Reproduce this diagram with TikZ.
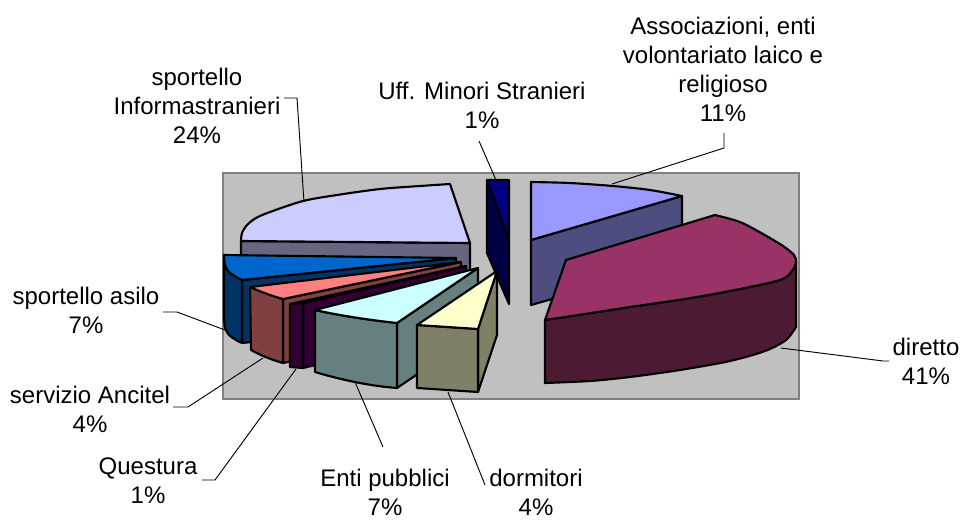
\documentclass[tikz,border=0pt]{standalone}
\usepackage{fontspec}
\setmainfont{Liberation Sans}
\definecolor{plotBg}{HTML}{C0C0C0}
\definecolor{plotRim}{HTML}{808080}
\definecolor{infoTop}{HTML}{CCCCFF}
\definecolor{infoSide}{HTML}{666680}
\definecolor{uffTop}{HTML}{000080}
\definecolor{uffSide}{HTML}{000045}
\definecolor{assTop}{HTML}{9999FF}
\definecolor{assSide}{HTML}{4D4D80}
\definecolor{dirTop}{HTML}{993366}
\definecolor{dirSide}{HTML}{4D1A33}
\definecolor{asiloTop}{HTML}{0066CC}
\definecolor{asiloSide}{HTML}{003366}
\definecolor{ancTop}{HTML}{FF8080}
\definecolor{ancSide}{HTML}{804040}
\definecolor{questTop}{HTML}{660066}
\definecolor{questSide}{HTML}{330033}
\definecolor{entiTop}{HTML}{CCFFFF}
\definecolor{entiSide}{HTML}{668080}
\definecolor{dormTop}{HTML}{FFFFCC}
\definecolor{dormSide}{HTML}{808066}
\tikzstyle{slice} = [draw=black, line width=1.6pt, line join=round]
\tikzstyle{leader} = [draw=black, line width=0.7pt]
\tikzstyle{lab} = [align=center, inner sep=0pt, font=\fontsize{18}{21.75}\selectfont]

\begin{document}
\begin{tikzpicture}[x=0.75pt, y=-0.75pt]
        \useasboundingbox (0,0) rectangle (965,522);
        \filldraw[fill=plotBg, draw=plotRim, line width=1.5pt] (223,173) rectangle (799,399);

        % Uff. Minori Stranieri
        \filldraw[slice, fill=uffSide] (487,180) -- (509,240) -- (509,304) -- (487,253) -- cycle;
        \filldraw[slice, fill=uffTop] (487,180) -- (509,180) -- (509,240) -- cycle;

        % Associazioni
        \filldraw[slice, fill=assSide] (531,240) -- (682,196) -- (682,262) -- (531,305) -- cycle;
        \filldraw[slice, fill=assTop] (531,240) -- (531,182) -- plot[smooth] coordinates {(531,182) (570,183) (613,186) (650,190) (682,196)} -- cycle;

        % diretto
        \filldraw[slice, fill=dirSide] (545,320) -- (545,383) -- plot[smooth] coordinates {(545,383) (590,381) (630,377) (680,370) (730,361) (765,351) (786,340) (796,327)} -- (796,262)
            -- plot[smooth] coordinates {(796,262) (792,271) (780,280) (735,290) (685,299) (630,307) (585,314) (545,320)} -- cycle;
        \filldraw[slice, fill=dirTop] (545,320) -- (566,260) -- (715,215) -- plot[smooth] coordinates {(715,215) (740,222) (763,234) (783,246) (794,255) (796,262) (792,271) (780,280) (735,290) (685,299) (630,307) (585,314) (545,320)} -- cycle;

        % sportello Informastranieri
        \filldraw[slice, fill=infoSide] (241,241) -- (470,243) -- (470,300) -- (241,298) -- cycle;
        \filldraw[slice, fill=infoTop] (470,243) -- (241,241) -- plot[smooth] coordinates {(241,241) (242,233) (247,225) (256,218) (270,212) (303,201) (337,195) (380,189) (420,186) (450,184)} -- cycle;

        % sportello asilo
        \filldraw[slice, fill=asiloSide] (242,280) -- (456,258) -- (456,321) -- (242,343) -- cycle;
        \filldraw[slice, fill=asiloSide] (242,280) -- (242,343) -- plot[smooth] coordinates {(242,343) (236,340) (229,335) (225,328) (224,318)} -- (224,255)
            -- plot[smooth] coordinates {(224,255) (225,265) (229,272) (236,277) (242,280)} -- cycle;
        \filldraw[slice, fill=asiloTop] (456,258) -- (224,255) -- plot[smooth] coordinates {(224,255) (225,265) (229,272) (236,277) (242,280)} -- cycle;

        % servizio Ancitel
        \filldraw[slice, fill=ancSide] (283,299) -- (461,262) -- (461,325) -- (283,363) -- cycle;
        \filldraw[slice, fill=ancSide] (250,287) -- (283,299) -- (283,363) .. controls (272,360) and (260,355) .. (251,350) -- cycle;
        \filldraw[slice, fill=ancTop] (461,262) -- (250,287) .. controls (261,292) and (272,296) .. (283,299) -- cycle;

        % Questura
        \filldraw[slice, fill=questSide] (303,303) -- (466,266) -- (466,329) -- (303,368) -- cycle;
        \filldraw[slice, fill=questSide] (290,304) -- (303,303) -- (303,368) -- (290,367) -- cycle;
        \filldraw[slice, fill=questTop] (466,266) -- (290,304) -- (303,303) -- cycle;

        % Enti pubblici
        \filldraw[slice, fill=entiSide] (397,323) -- (478,268) -- (478,333) -- (397,388) -- cycle;
        \filldraw[slice, fill=entiSide] (315,310) .. controls (342,316) and (370,320) .. (397,323) -- (397,388) .. controls (370,386) and (342,380) .. (315,372) -- cycle;
        \filldraw[slice, fill=entiTop] (478,268) -- (315,310) .. controls (342,316) and (370,320) .. (397,323) -- cycle;

        % dormitori
        \filldraw[slice, fill=dormSide] (478,329) -- (497,271) -- (497,335) -- (478,392) -- cycle;
        \filldraw[slice, fill=dormSide] (417,325) -- (478,329) -- (478,392) -- (417,388) -- cycle;
        \filldraw[slice, fill=dormTop] (497,271) -- (417,325) -- (478,329) -- cycle;

        % labels
        \node[lab] (labInfo) at (197,106) {sportello\\Informastranieri\\24\%};
        \node[lab] (labUff) at (482,105.5) {Uff. Minori Stranieri\\1\%};
        \node[lab] (labAss) at (723,69) {Associazioni, enti\\volontariato laico e\\religioso\\11\%};
        \node[lab] (labDir) at (926,361.5) {diretto\\41\%};
        \node[lab] (labAsilo) at (86,310.5) {sportello asilo\\7\%};
        \node[lab] (labAnc) at (90,409.5) {servizio Ancitel\\4\%};
        \node[lab] (labQuest) at (148,480.5) {Questura\\1\%};
        \node[lab] (labEnti) at (385,492) {Enti pubblici\\7\%};
        \node[lab] (labDorm) at (536,492) {dormitori\\4\%};

        % leader lines
        \coordinate (tkInfo) at (284,98);    \coordinate (ptInfo) at (304,202);
        \coordinate (tkUff) at (479,141);    \coordinate (ptUff) at (496,180);
        \coordinate (tkAss) at (724,133);    \coordinate (ptAss) at (612,184);
        \coordinate (tkDir) at (889,361);    \coordinate (ptDir) at (781,348);
        \coordinate (tkAsilo) at (163,312);  \coordinate (ptAsilo) at (225,330);
        \coordinate (tkAnc) at (173,407);    \coordinate (ptAnc) at (263,358);
        \coordinate (tkQuest) at (202,480);  \coordinate (ptQuest) at (296,369);
        \coordinate (tkEnti) at (383,447);   \coordinate (ptEnti) at (355,382);
        \coordinate (tkDorm) at (485,485);   \coordinate (ptDorm) at (448,392);

        \draw[leader] (tkInfo) -- ++(13,0) -- (ptInfo);
        \draw[leader] (tkUff) -- (ptUff);
        \draw[leader] (tkAss) -- ++(0,15) -- (ptAss);
        \draw[leader] (tkDir) -- ++(-6,0) -- (ptDir);
        \draw[leader] (tkAsilo) -- ++(14,0) -- (ptAsilo);
        \draw[leader] (tkAnc) -- ++(15,0) -- (ptAnc);
        \draw[leader] (tkQuest) -- ++(13,0) -- (ptQuest);
        \draw[leader] (tkEnti) -- (ptEnti);
        \draw[leader] (tkDorm) -- (ptDorm);
    \end{tikzpicture}
\end{document}
